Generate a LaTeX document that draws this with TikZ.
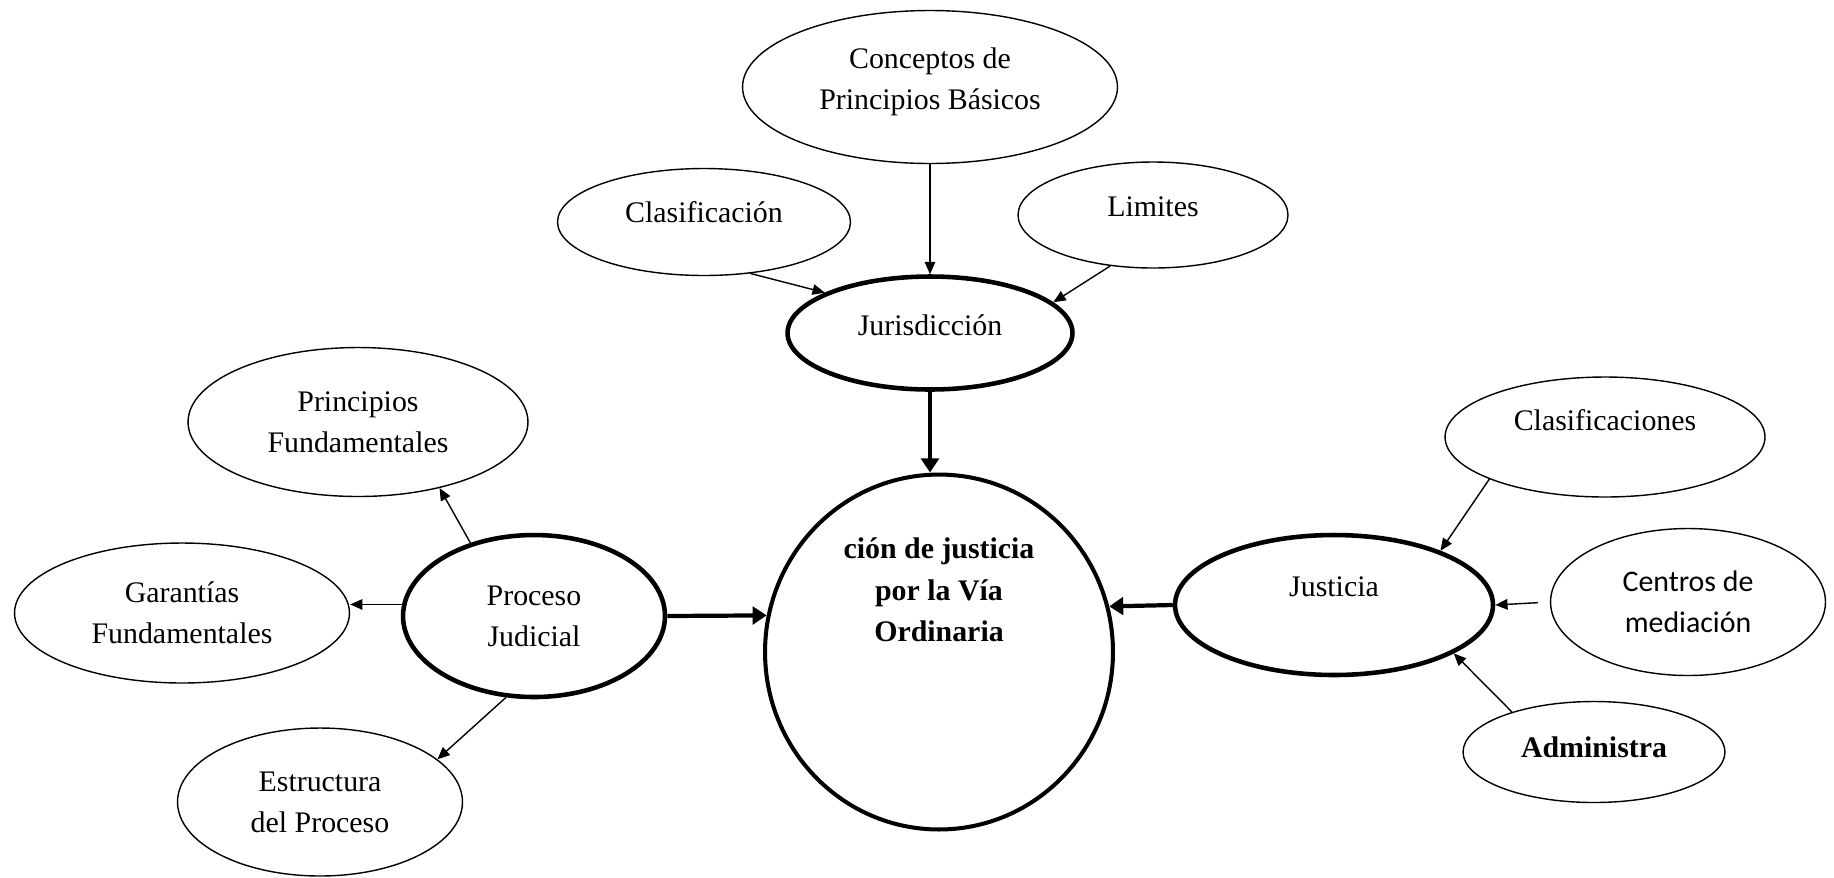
\documentclass[tikz,border=0pt]{standalone}
\usepackage{fontspec}
\setmainfont{Liberation Serif}
\newfontfamily\calibri{Carlito}
\usetikzlibrary{shapes.geometric, arrows.meta}

\tikzset{
  every node/.style={font=\fontsize{17}{23.5}\selectfont},
  every label/.style={align=center},
  thinell/.style={ellipse, draw, line width=0.8pt, inner sep=0pt},
  thickell/.style={ellipse, draw, line width=2.6pt, inner sep=0pt},
  thinarrow/.style={-{Triangle[length=7pt, width=6pt]}, line width=0.8pt},
  thickarrow/.style={-{Triangle[length=8pt, width=10pt]}, line width=2.4pt}
}

\begin{document}
\begin{tikzpicture}[x=0.02cm, y=-0.02cm]
  \useasboundingbox (0,0) rectangle (1834,877);

  % Central topic
  \node[thickell, line width=2.3pt, minimum width=6.96cm, minimum height=7.1cm,
        label={[yshift=1.24cm, font=\fontsize{17}{23.5}\selectfont\bfseries]center:{ción de justicia\\por la Vía\\Ordinaria}}]
        (central) at (939,652) {};

  % Jurisdiccion branch (top)
  \node[thickell, minimum width=5.7cm, minimum height=2.26cm,
        label={[yshift=0.16cm]center:Jurisdicción}] (juris) at (930,333) {};
  \node[thinell, minimum width=7.5cm, minimum height=3.06cm,
        label={[yshift=0.1cm]center:{Conceptos de\\Principios Básicos}}] (conceptos) at (930,87) {};
  \node[thinell, minimum width=5.86cm, minimum height=2.14cm,
        label={[yshift=0.2cm]center:Clasificación}] (clasif) at (704,222) {};
  \node[thinell, minimum width=5.4cm, minimum height=2.12cm,
        label={[yshift=0.16cm]center:Limites}] (limites) at (1153,215) {};

  % Proceso judicial branch (left)
  \node[thickell, minimum width=5.24cm, minimum height=3.24cm,
        label={center:{Proceso\\Judicial}}] (proceso) at (534,616) {};
  \node[thinell, minimum width=6.8cm, minimum height=2.98cm,
        label={center:{Principios\\Fundamentales}}] (princ) at (358,422) {};
  \node[thinell, minimum width=6.7cm, minimum height=2.8cm,
        label={center:{Garantías\\Fundamentales}}] (garant) at (182,613) {};
  \node[thinell, minimum width=5.7cm, minimum height=2.96cm,
        label={center:{Estructura\\del Proceso}}] (estruct) at (320,802) {};

  % Justicia branch (right)
  \node[thickell, minimum width=6.36cm, minimum height=2.8cm,
        label={[yshift=0.36cm]center:Justicia}] (justicia) at (1334,605) {};
  \node[thinell, minimum width=6.4cm, minimum height=2.4cm,
        label={[yshift=0.34cm]center:Clasificaciones}] (clasifs) at (1605,437) {};
  \node[thinell, minimum width=5.5cm, minimum height=2.94cm,
        label={[font=\fontsize{17}{23.5}\calibri]center:{Centros de\\mediación}}] (centros) at (1688,602) {};
  \node[thinell, minimum width=5.24cm, minimum height=2.02cm,
        label={[yshift=0.1cm, font=\fontsize{17}{23.5}\selectfont\bfseries]center:Administra}] (admin) at (1594,752) {};

  % thin connectors
  \draw[thinarrow] (conceptos) -- (juris);
  \draw[thinarrow] (clasif.-48) -- (juris.159);
  \draw[thinarrow] (limites.-130) -- (juris.14.5);
  \draw[thinarrow] (proceso.131) -- (princ.-39);
  \draw[thinarrow] (proceso.175) -- (proceso.175 -| garant.east);
  \draw[thinarrow] (proceso.-109.5) -- (estruct.20.6);
  \draw[thinarrow] (clasifs.200) -- (justicia.27);
  \draw[thinarrow, shorten <=0.24cm] (centros.west) -- (justicia.east);
  \draw[thinarrow] (admin.154.7) -- (justicia.-22.8);

  % thick connectors to the centre
  \draw[thickarrow] (juris.south) -- (juris.south |- central.north);
  \draw[thickarrow] (proceso.east) -- (central.168);
  \draw[thickarrow] (justicia.west) -- (central.15);
\end{tikzpicture}
\end{document}
